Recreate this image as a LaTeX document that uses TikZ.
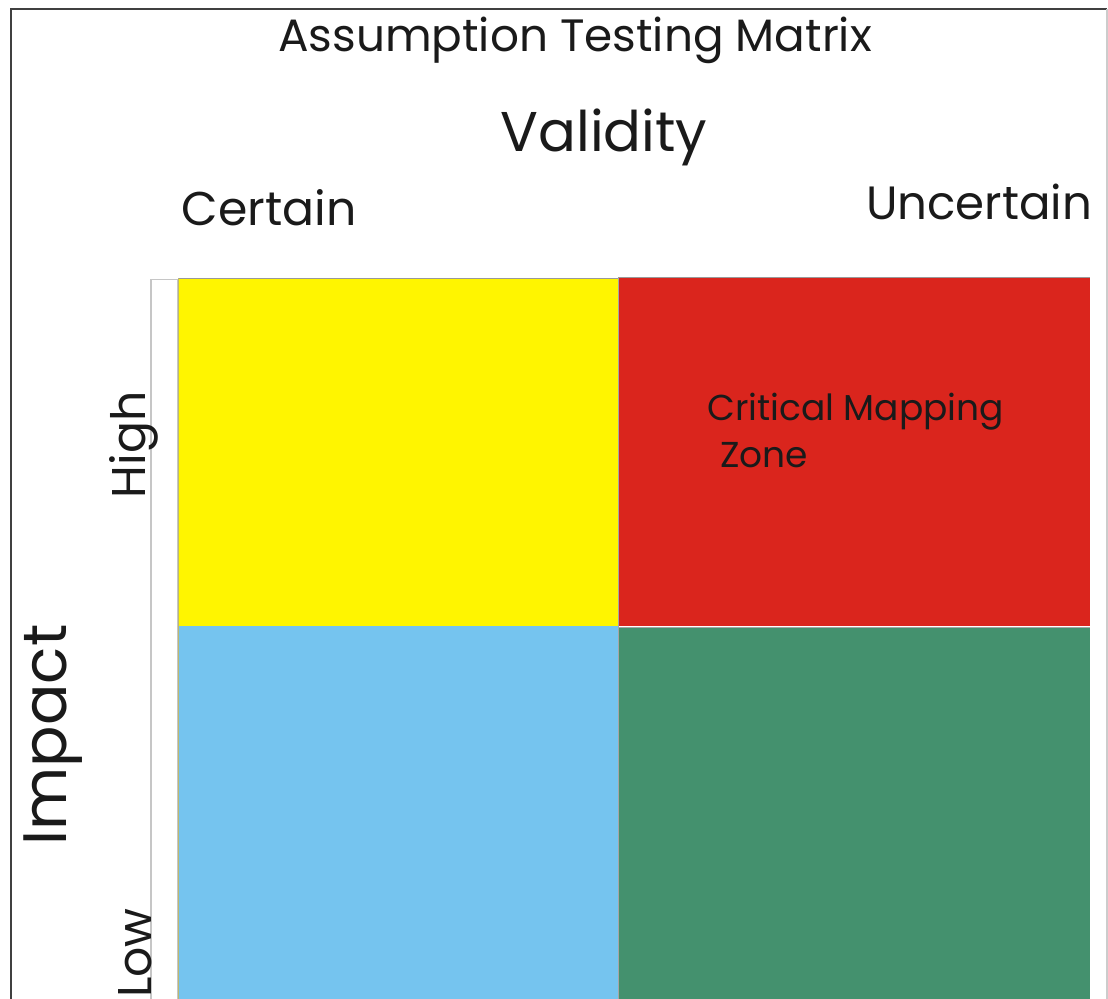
\documentclass[tikz,border=0pt]{standalone}
\usepackage{fontspec}
\setmainfont{Poppins}
\definecolor{qyellow}{HTML}{FFF500}
\definecolor{qred}{HTML}{DA251D}
\definecolor{qblue}{HTML}{75C4EF}
\definecolor{qgreen}{HTML}{44916E}
\definecolor{txt}{HTML}{1A1A1A}
\begin{document}
\begin{tikzpicture}[x=0.75pt,y=-0.75pt,
  lbl/.style={inner sep=0pt,text=txt}]
\useasboundingbox (0,0) rectangle (1108,999);
\fill[white] (0,0) rectangle (1108,999);
% frame
\draw[black!75,line width=1.5pt] (10.5,999) -- (10.5,9.5) -- (1107,9.5);
\draw[gray!40,line width=0.8pt] (1107,9.5) -- (1107,999);
% strip
\draw[gray!45,line width=0.9pt,fill=white] (151,999) -- (151,279.5) -- (178,279.5) -- (178,999);
% quadrants
\fill[qyellow] (178,278) rectangle (618,626);
\fill[qred] (618,277) rectangle (1090,626);
\fill[qblue] (178,626) rectangle (618,999);
\fill[qgreen] (618,627) rectangle (1090,999);
\draw[gray!80,line width=0.6pt] (178,278) -- (618,278);
\draw[gray!80,line width=0.8pt] (618,277.5) -- (1090,277.5);
\draw[gray!60!yellow,line width=0.6pt] (178,278) -- (178,999);
\draw[gray!70,line width=0.6pt] (618,278) -- (618,999);
\draw[gray!70,line width=0.6pt] (618,627) -- (1090,627);
% texts
\node[lbl,font=\fontsize{34}{40}\selectfont] (title) at (575,40) {Assumption Testing Matrix};
\node[lbl,font=\fontsize{42}{50}\selectfont] (validity) at (604,137) {Validity};
\node[lbl,font=\fontsize{35.5}{42}\selectfont] (certain) at (269,208) {Certain};
\node[lbl,font=\fontsize{35}{42}\selectfont] (uncertain) at (979,202) {Uncertain};
\node[lbl,font=\fontsize{35.5}{42}\selectfont,rotate=90] (high) at (134,445) {High};
\node[lbl,font=\fontsize{46}{54}\selectfont,rotate=90] (impact) at (53,735) {Impact};
\node[lbl,font=\fontsize{35.5}{42}\selectfont,rotate=90] (low) at (135,953) {Low};
\node[lbl,font=\fontsize{27}{32}\selectfont,anchor=base west] (crit) at (707,420) {Critical Mapping};
\node[lbl,font=\fontsize{27}{32}\selectfont,anchor=base west] (zone) at (720,467) {Zone};
\end{tikzpicture}
\end{document}
